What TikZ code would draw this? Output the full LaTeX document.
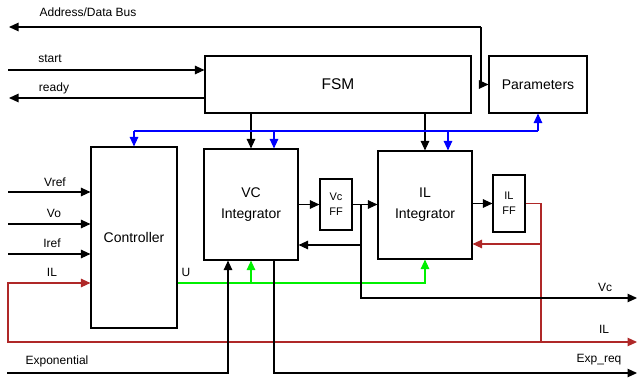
\documentclass[tikz,border=0pt]{standalone}
\usepackage{fontspec}
\setmainfont{Liberation Sans}
\usetikzlibrary{arrows.meta}
\definecolor{bluec}{RGB}{0,0,255}
\definecolor{greenc}{RGB}{0,240,0}
\definecolor{redc}{RGB}{175,40,40}
\tikzset{
  ln/.style={line width=1.1pt, line join=miter},
  arr/.style={ln, -{Triangle[length=9.5pt,width=8.5pt]}},
  arrb/.style={ln, {Triangle[length=9.5pt,width=8.5pt]}-{Triangle[length=9.5pt,width=8.5pt]}},
  blk/.style={draw, line width=1.1pt, inner sep=0pt, align=center, fill=white},
  lbl/.style={inner sep=0pt, font=\fontsize{12}{14}\selectfont},
  big/.style={font=\fontsize{14}{21}\selectfont},
  small/.style={font=\fontsize{11}{15}\selectfont},
}
\begin{document}
\begin{tikzpicture}[x=1pt,y=-1pt]
\useasboundingbox (0,0) rectangle (637,381);
% blocks
\node[blk, font=\fontsize{15.5}{18}\selectfont, minimum width=266pt, minimum height=57pt] (fsm) at (338,84.5) {FSM};
\node[blk, big, minimum width=98pt, minimum height=57pt] (par) at (538,84.5) {Parameters};
\node[blk, big, minimum width=86pt, minimum height=181pt] (ctrl) at (134,237.5) {Controller};
\node[blk, big, minimum width=94pt, minimum height=111pt] (vci) at (251,204.5) {VC\\Integrator};
\node[blk, small, minimum width=32pt, minimum height=51pt] (vcff) at (336,204.5) {Vc\\FF};
\node[blk, big, minimum width=94pt, minimum height=108pt] (ili) at (425,205) {IL\\Integrator};
\node[blk, small, minimum width=32pt, minimum height=57pt] (ilff) at (509,203.5) {IL\\FF};
% labels
\node[lbl] (tbus) at (88,12) {Address/Data Bus};
\node[lbl] (tstart) at (50,59) {start};
\node[lbl] (tready) at (54,88) {ready};
\node[lbl] (tvref) at (55,182) {Vref};
\node[lbl] (tvo) at (54,213) {Vo};
\node[lbl] (tiref) at (52,243) {Iref};
\node[lbl] (til) at (52,272) {IL};
\node[lbl] (tu) at (186,272) {U};
\node[lbl] (texp) at (57,361) {Exponential};
\node[lbl] (tvc) at (605,287) {Vc};
\node[lbl] (tilr) at (604,329) {IL};
\node[lbl] (texr) at (599,360) {Exp\_req};
% coordinates
\coordinate (busL) at (9,27);
\coordinate (busK) at (481,27);
\coordinate (busD) at (481,84.5);
\coordinate (stL) at (8,70);
\coordinate (rdL) at (9,98);
\coordinate (vrL) at (8,192);
\coordinate (voL) at (8,224);
\coordinate (irL) at (8,254);
\coordinate (ilC) at (8,283);
\coordinate (ilB) at (8,342);
\coordinate (ilR) at (637,342);
\coordinate (b1) at (134,131);
\coordinate (b2) at (274,131);
\coordinate (b3) at (448,131);
\coordinate (b4) at (538,131);
\coordinate (g1) at (251,283);
\coordinate (g2) at (425,283);
\coordinate (exL) at (7,373);
\coordinate (exK) at (228,373);
\coordinate (erK) at (274,373);
\coordinate (erR) at (637,373);
\coordinate (j) at (361,204.5);
\coordinate (fb) at (361,245);
\coordinate (vcK) at (361,298);
\coordinate (vcR) at (637,298);
\coordinate (rk) at (541,203.5);
\coordinate (rfb) at (541,244);
\coordinate (rb) at (541,342);
% bus
\draw[arr] (busK) -- (busL);
\draw[arr] (busK) -- (busD) -- (par.west);
\draw[arr] (stL) -- (stL -| fsm.west);
\draw[arr] (rdL -| fsm.west) -- (rdL);
% FSM to integrators
\draw[arr] (fsm.south -| vci.north) -- (vci.north);
\draw[arr] (fsm.south -| ili.north) -- (ili.north);
% blue bus
\draw[ln, bluec] (b1) -- (b4);
\draw[arr, bluec] (b1) -- (ctrl.north);
\draw[arr, bluec] (b2) -- (b2 |- vci.north);
\draw[arr, bluec] (b3) -- (b3 |- ili.north);
\draw[arr, bluec] (b4) -- (par.south);
% controller inputs
\draw[arr] (vrL) -- (vrL -| ctrl.west);
\draw[arr] (voL) -- (voL -| ctrl.west);
\draw[arr] (irL) -- (irL -| ctrl.west);
% IL loop
\draw[arrb, redc] (ilC -| ctrl.west) -- (ilC) -- (ilB) -- (ilR);
\draw[ln, redc] (ilff.east) -- (rk) -- (rb);
\draw[arr, redc] (rfb) -- (rfb -| ili.east);
% green U
\draw[arr, greenc] (g1 -| ctrl.east) -- (g2) -- (ili.south);
\draw[arr, greenc] (g1) -- (vci.south);
% exponential
\draw[arr] (exL) -- (exK) -- (exK |- vci.south);
\draw[arr] (erK |- vci.south) -- (erK) -- (erR);
% Vc path
\draw[arr] (vci.east) -- (vcff.west);
\draw[arr] (vcff.east) -- (vcff.east -| ili.west);
\draw[arr] (j) -- (vcK) -- (vcR);
\draw[arr] (fb) -- (fb -| vci.east);
\draw[arr] (ili.east |- ilff.west) -- (ilff.west);
\end{tikzpicture}
\end{document}
